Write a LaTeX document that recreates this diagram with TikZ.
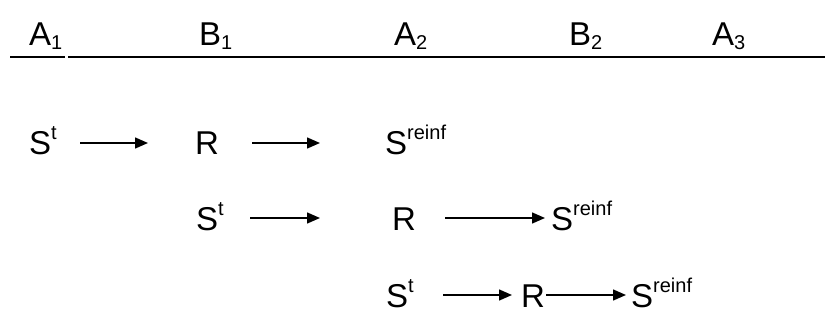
\documentclass[tikz,border=0pt]{standalone}
\usepackage{fontspec}
\setmainfont{Liberation Sans}
\usetikzlibrary{arrows.meta,calc}
\newcommand{\bigtxt}{\fontsize{33}{34}\selectfont}
\newcommand{\smtxt}{\fontsize{20}{20}\selectfont}
\newcommand{\supt}{\raisebox{15pt}{\smtxt t}}
\newcommand{\supr}{\raisebox{15pt}{\smtxt reinf}}
\newcommand{\subd}[1]{\raisebox{-4pt}{\smtxt #1}}
\tikzset{
  lbl/.style={inner sep=0pt, anchor=base west, font=\bigtxt},
  arr/.style={line width=1.4pt, -{Triangle[length=13pt,width=11pt]}},
  rule/.style={line width=1.5pt}
}
\begin{document}
\begin{tikzpicture}[x=1pt,y=-1pt]
\useasboundingbox (0,0) rectangle (825,326);
% header
\node[lbl] (a1) at (29,46) {A\subd{1}};
\node[lbl] (b1) at (199,46) {B\subd{1}};
\node[lbl] (a2) at (394,46) {A\subd{2}};
\node[lbl] (b2) at (569,46) {B\subd{2}};
\node[lbl] (a3) at (712,46) {A\subd{3}};
\draw[rule] (10,57) -- (65,57);
\draw[rule] (68,57) -- (825,57);
% row 1
\node[lbl] (s1) at (29,155) {S\supt};
\node[lbl] (r1) at (195,155) {R};
\node[lbl] (f1) at (385,155) {S\supr};
\draw[arr] ($(s1.base west)+(51,-12)$) -- ($(r1.base west)+(-47,-12)$);
\draw[arr] ($(r1.base west)+(57,-12)$) -- ($(f1.base west)+(-65,-12)$);
% row 2
\node[lbl] (s2) at (196,230) {S\supt};
\node[lbl] (r2) at (392,230) {R};
\node[lbl] (f2) at (551,230) {S\supr};
\draw[arr] ($(s2.base west)+(54,-12)$) -- ($(r2.base west)+(-72,-12)$);
\draw[arr] ($(r2.base west)+(53,-12)$) -- ($(f2.base west)+(-6,-12)$);
% row 3
\node[lbl] (s3) at (386,307) {S\supt};
\node[lbl] (r3) at (521,307) {R};
\node[lbl] (f3) at (631,307) {S\supr};
\draw[arr] ($(s3.base west)+(57,-12)$) -- ($(r3.base west)+(-9,-12)$);
\draw[arr] ($(r3.base west)+(25,-12)$) -- ($(f3.base west)+(-5,-12)$);
\end{tikzpicture}
\end{document}
